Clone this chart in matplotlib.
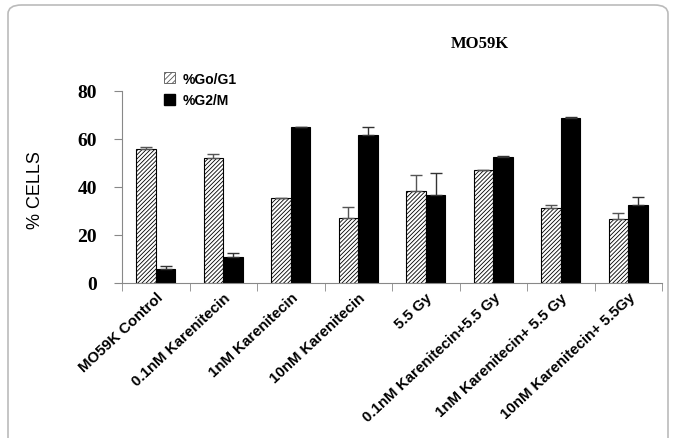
import matplotlib
matplotlib.use('Agg')
import matplotlib.pyplot as plt
from matplotlib.patches import FancyBboxPatch, Patch
import numpy as np

# data
groups = ['MO59K Control', '0.1nM Karenitecin', '1nM Karenitecin', '10nM Karenitecin',
          '5.5 Gy', '0.1nM Karenitecin+5.5 Gy', '1nM Karenitecin+ 5.5 Gy', '10nM Karenitecin+ 5.5Gy']
g0g1 = [56, 52, 35.3, 27, 38.5, 47.1, 31.1, 26.5]
g0g1_err = [0.6, 1.8, 0.3, 4.8, 6.6, 0.0, 1.4, 2.5]
g2m = [6, 11, 64.9, 61.7, 36.7, 52.4, 68.9, 32.5]
g2m_err = [1.0, 1.5, 0.3, 3.2, 9.0, 0.7, 0.3, 3.2]

W, H = 677, 439
fig = plt.figure(figsize=(W / 100, H / 100), dpi=100)
ax = fig.add_axes([122 / W, 1 - 284 / H, 540 / W, 192 / H])

x = np.arange(len(groups))
bw = 0.29
plt.rcParams['hatch.linewidth'] = 0.6
ax.bar(x - bw / 2, g0g1, bw, color='white', edgecolor='black', hatch='////////', linewidth=0.8,
       yerr=[np.zeros(len(g0g1)), g0g1_err], error_kw=dict(ecolor='#555555', capsize=4, elinewidth=1))
ax.bar(x + bw / 2, g2m, bw, color='black', edgecolor='black', linewidth=0.8,
       yerr=[np.zeros(len(g2m)), g2m_err], error_kw=dict(ecolor='#333333', capsize=4, elinewidth=1))

ax.set_xlim(-0.5, len(groups) - 0.5)
ax.set_ylim(0, 80)
ax.set_yticks([0, 20, 40, 60, 80])
ax.set_yticklabels(['0', '20', '40', '60', '80'], family='Liberation Serif', weight='bold', fontsize=14)
ax.tick_params(axis='y', direction='out', length=6, color='#888888', pad=12)

ax.set_xticks(x)
ax.set_xticklabels(groups, rotation=43, ha='right', rotation_mode='anchor',
                   family='Liberation Sans', weight='bold', fontsize=10.8)
ax.tick_params(axis='x', length=0, pad=5)
ax.set_xticks(np.arange(len(groups) + 1) - 0.5, minor=True)
ax.tick_params(axis='x', which='minor', direction='out', length=6, color='#888888')

for s in ['top', 'right']:
    ax.spines[s].set_visible(False)
for s in ['left', 'bottom']:
    ax.spines[s].set_color('#888888')

fig.text(35 / W, 1 - 190 / H, '% CELLS', rotation=90, ha='center', va='center',
         family='Liberation Sans', fontsize=13)
fig.text(480 / W, 1 - 44 / H, 'MO59K', ha='center', va='center',
         family='Liberation Serif', weight='bold', fontsize=12)

handles = [Patch(facecolor='white', edgecolor='#555555', hatch='//////', linewidth=0.6),
           Patch(facecolor='black', edgecolor='black')]
fig.legend(handles, ['%Go/G1', '%G2/M'], loc='upper left', bbox_to_anchor=(151 / W, 1 - 60 / H),
           frameon=False, handlelength=0.8, handleheight=0.8, handletextpad=0.6, labelspacing=0.55,
           prop=dict(family='Liberation Sans', weight='bold', size=10))

frame = FancyBboxPatch((8 / W, -0.1), 660 / W, 1.1 - 6 / H, boxstyle='round,pad=0,rounding_size=0.02',
                       transform=fig.transFigure, facecolor='none', edgecolor='#bbbbbb', linewidth=1.2)
fig.patches.append(frame)

fig.savefig('out.png', dpi=100)
